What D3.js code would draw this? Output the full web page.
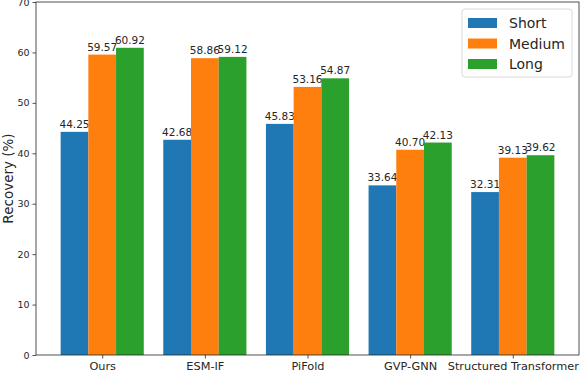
<!DOCTYPE html>
<html>
<head>
<meta charset="utf-8">
<script src="https://cdn.jsdelivr.net/npm/d3@7"></script>
<style>
  body { margin: 0; background: #fff; }
  text { font-family: "DejaVu Sans", sans-serif; fill: #262626; }
</style>
</head>
<body>
<div id="wrapper"></div>
<script>
// data
const methods = ["Ours", "ESM-IF", "PiFold", "GVP-GNN", "Structured Transformer"];
const seriesNames = ["Short", "Medium", "Long"];
const shortVals = [44.25, 42.68, 45.83, 33.64, 32.31];
const mediumVals = [59.57, 58.86, 53.16, 40.70, 39.13];
const longVals = [60.92, 59.12, 54.87, 42.13, 39.62];
const yTicks = [0, 10, 20, 30, 40, 50, 60, 70];
const colors = ["#1f77b4", "#ff7f0e", "#2ca02c"];

const series = [shortVals, mediumVals, longVals];

const drawChart = () => {
  const dimensions = {
    width: 580,
    height: 372,
    margin: { top: 2, right: 1, bottom: 17, left: 36 },
  };
  dimensions.boundedWidth = dimensions.width - dimensions.margin.left - dimensions.margin.right;
  dimensions.boundedHeight = dimensions.height - dimensions.margin.top - dimensions.margin.bottom;

  const svg = d3.select("#wrapper")
    .append("svg")
      .attr("width", dimensions.width)
      .attr("height", dimensions.height);

  const bounds = svg.append("g")
    .attr("transform", `translate(${dimensions.margin.left},${dimensions.margin.top})`);

  // matplotlib-like x: group centres at 0..4, bar width 0.27
  const barW = 0.27;
  const xScale = d3.scaleLinear()
    .domain([-0.645, methods.length - 1 + 0.645])
    .range([0, dimensions.boundedWidth]);

  const yScale = d3.scaleLinear()
    .domain([0, 70])
    .range([dimensions.boundedHeight, 0]);

  // bars
  series.forEach((vals, s) => {
    const offset = (s - 1) * barW;
    const g = bounds.append("g");
    g.selectAll("rect")
      .data(vals)
      .join("rect")
        .attr("x", (d, i) => xScale(i + offset - barW / 2))
        .attr("width", xScale(barW) - xScale(0))
        .attr("y", d => yScale(d))
        .attr("height", d => yScale(0) - yScale(d))
        .attr("fill", colors[s]);
    g.selectAll("text")
      .data(vals)
      .join("text")
        .attr("x", (d, i) => xScale(i + offset))
        .attr("y", d => yScale(d) - 4)
        .attr("text-anchor", "middle")
        .style("font-size", "10.5px")
        .text(d => d.toFixed(2));
  });

  // axes
  const yAxis = bounds.append("g")
    .call(d3.axisLeft(yScale).tickValues(yTicks).tickSize(3.5).tickPadding(3));
  const xAxis = bounds.append("g")
    .attr("transform", `translate(0,${dimensions.boundedHeight})`)
    .call(d3.axisBottom(xScale)
      .tickValues(d3.range(methods.length))
      .tickFormat(i => methods[i])
      .tickSize(3.5).tickPadding(3));

  [yAxis, xAxis].forEach(a => {
    a.select(".domain").remove();
    a.selectAll("line").attr("stroke", "#262626").attr("stroke-width", 0.8);
    a.selectAll("text").attr("fill", "#262626");
  });
  yAxis.selectAll("text").style("font-size", "9.5px");
  xAxis.selectAll("text").style("font-size", "11.3px");

  // frame
  bounds.append("rect")
    .attr("width", dimensions.boundedWidth)
    .attr("height", dimensions.boundedHeight)
    .attr("fill", "none")
    .attr("stroke", "#262626")
    .attr("stroke-width", 0.8);

  // y label
  svg.append("text")
    .attr("transform", `translate(13,${dimensions.margin.top + dimensions.boundedHeight / 2}) rotate(-90)`)
    .attr("text-anchor", "middle")
    .style("font-size", "13.5px")
    .text("Recovery (%)");

  // legend
  const legend = svg.append("g").attr("transform", "translate(462,9)");
  legend.append("rect")
    .attr("width", 110).attr("height", 68)
    .attr("rx", 3)
    .attr("fill", "#fff").attr("fill-opacity", 0.8)
    .attr("stroke", "#d9d9d9");
  seriesNames.forEach((name, i) => {
    legend.append("rect")
      .attr("x", 6).attr("y", 9 + i * 20.5)
      .attr("width", 29).attr("height", 10)
      .attr("fill", colors[i]);
    legend.append("text")
      .attr("x", 47).attr("y", 19 + i * 20.5)
      .style("font-size", "14px")
      .text(name);
  });
};

drawChart();
</script>
</body>
</html>
